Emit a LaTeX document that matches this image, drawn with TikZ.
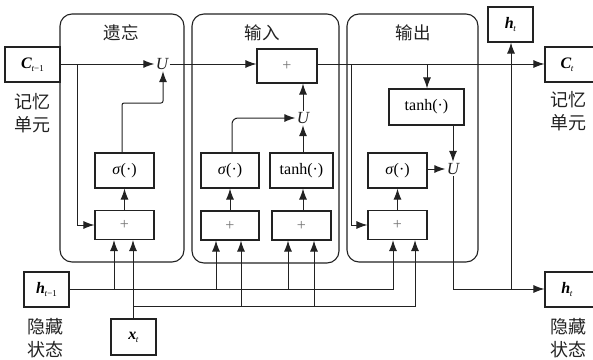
\documentclass[tikz,border=0pt]{standalone}
\usepackage{fontspec}
\setmainfont{Liberation Serif}
\newfontfamily\cjk{Noto Sans CJK SC}
\usetikzlibrary{arrows.meta,calc}
\definecolor{ink}{HTML}{222222}
\newcommand{\vsub}[2]{\textbf{\textit{#1}}\kern-0.5pt\raisebox{-0.4ex}{\fontsize{9}{9}\selectfont #2}}
\begin{document}
\begin{tikzpicture}[x=1pt,y=-1pt,
  line width=1pt, draw=ink,
  panel/.style={draw=ink, line width=1.1pt, rounded corners=12pt},
  opbox/.style={draw=ink, line width=1.1pt, rectangle, inner sep=0pt,
    minimum width=59pt, minimum height=35pt, font=\fontsize{16}{16}\selectfont},
  addbox/.style={opbox, minimum height=29pt},
  varbox/.style={draw=ink, line width=1.1pt, rectangle, inner sep=0pt,
    minimum width=45pt, minimum height=35pt, font=\fontsize{16}{16}\selectfont},
  gatelabel/.style={font=\cjk\fontsize{17.5}{17.5}\selectfont, text=ink},
  sidelabel/.style={font=\cjk\fontsize{18}{23}\selectfont, text=ink, align=center},
  mult/.style={inner sep=1pt, font=\fontsize{17}{17}\selectfont\itshape, text=ink},
  arr/.style={-{Latex[length=11pt,width=8pt]}}]
\useasboundingbox (0,0) rectangle (593,359);

% gate panels
\draw[panel] (60,14) rectangle (184,262);
\draw[panel] (192,14) rectangle (339,263);
\draw[panel] (347,14) rectangle (478,262);
\node[gatelabel] (tforget) at (121,33) {遗忘};
\node[gatelabel] (tinput) at (262,33) {输入};
\node[gatelabel] (toutput) at (413,33) {输出};

% inputs and outputs
\node[varbox, minimum width=55pt] (Cprev) at (32.5,64.5) {\vsub{C}{\textit{t}−1}};
\node[sidelabel] (memL) at (32,113) {记忆\\单元};
\node[varbox] (hprev) at (46.5,289.5) {\vsub{h}{\textit{t}−1}};
\node[sidelabel] (hidL) at (45,338) {隐藏\\状态};
\node[varbox, minimum height=36pt] (xt) at (133.5,337) {\vsub{x}{\textit{t}}};
\node[varbox] (htop) at (510.5,24.5) {\vsub{h}{\textit{t}}};
\node[varbox, minimum width=50pt] (Ct) at (570,64.5) {\kern-6pt\vsub{C}{\textit{t}}};
\node[sidelabel] (memR) at (568,111) {记忆\\单元};
\node[varbox, minimum width=50pt] (hright) at (570,289.5) {\kern-6pt\vsub{h}{\textit{t}}};
\node[sidelabel] (hidR) at (568,338) {隐藏\\状态};

% forget gate
\node[mult] (fU) at (162,64) {U};
\node[opbox] (fsig) at (124.5,170.5) {\textit{σ}(·)};
\node[addbox] (fadd) at (124.5,225) {\textcolor{black!55}{+}};

% input gate
\node[opbox, minimum width=60pt, minimum height=34pt] (iadd) at (287,66) {\textcolor{black!55}{+}};
\node[mult] (iU) at (303,118) {U};
\node[opbox, minimum width=58pt] (isig) at (230,170.5) {\textit{σ}(·)};
\node[opbox, minimum width=63pt] (itanh) at (301.5,170.5) {tanh(·)};
\node[addbox, minimum width=58pt] (iadd1) at (230,225.5) {\textcolor{black!55}{+}};
\node[addbox] (iadd2) at (301.5,225.5) {\textcolor{black!55}{+}};

% output gate
\node[opbox, minimum width=75pt, minimum height=36pt] (otanh) at (426.5,107) {tanh(·)};
\node[opbox] (osig) at (397.5,170.5) {\textit{σ}(·)};
\node[mult] (oU) at (453,169) {U};
\node[addbox] (oadd) at (397.5,225) {\textcolor{black!55}{+}};

% junction points
\coordinate (cf) at (77,64);
\coordinate (co) at (351,64);
\coordinate (ct) at (427,64);
\coordinate (hend) at (393,289);
\coordinate (xend) at (415,306);
\coordinate (xrow) at (133,306);
\coordinate (hout) at (453,289);
\coordinate (hup) at (511,289);

% cell state path
\draw[arr] (Cprev.east |- cf) -- (fU.west);
\draw[arr] (cf) -- (77,225) -- (fadd.west |- 0,225);
\draw[arr] (fU.east) -- (iadd.west |- 0,64);
\draw[arr] (iadd.east |- 0,64) -- (Ct.west |- 0,64);
\draw[arr] (ct) -- (otanh.north -| ct);
\draw[arr] (co) -- (351,225) -- (oadd.west |- 0,225);

% forget gate links
\draw[arr] (fadd.north) -- (fsig.south);
\draw[arr, rounded corners=2pt] (122,153) -- (122,103) -- (163,103) -- (fU.south -| 163,0);

% input gate links
\draw[arr] (iadd1.north) -- (isig.south);
\draw[arr] (iadd2.north -| iU) -- (itanh.south -| iU);
\draw[arr, rounded corners=6pt] (isig.north -| 232,0) -- (232,118) -- (iU.west);
\draw[arr] (itanh.north -| iU) -- (iU.south);
\draw[arr] (iU.north) -- (iadd.south -| iU);

% output gate links
\draw[arr] (oadd.north) -- (osig.south);
\draw[arr] (osig.east |- oU) -- (oU.west);
\draw[arr] (otanh.south -| oU) -- (oU.north);
\draw[arr] (oU.south) -- (hout) -- (hright.west |- hout);
\draw[arr] (hup) -- (htop.south -| hup);

% hidden state bus
\draw[arr] (hprev.east |- hend) -- (hend) -- (oadd.south -| hend);
\draw[arr] (114,289) -- (fadd.south -| 114,0);
\draw[arr] (216,289) -- (iadd1.south -| 216,0);
\draw[arr] (288,289) -- (iadd2.south -| 288,0);

% input bus
\draw[arr] (xt.north -| xrow) -- (fadd.south -| xrow);
\draw[arr] (xrow) -- (xend) -- (oadd.south -| xend);
\draw[arr] (241,306) -- (iadd1.south -| 241,0);
\draw[arr] (314,306) -- (iadd2.south -| 314,0);
\end{tikzpicture}
\end{document}
